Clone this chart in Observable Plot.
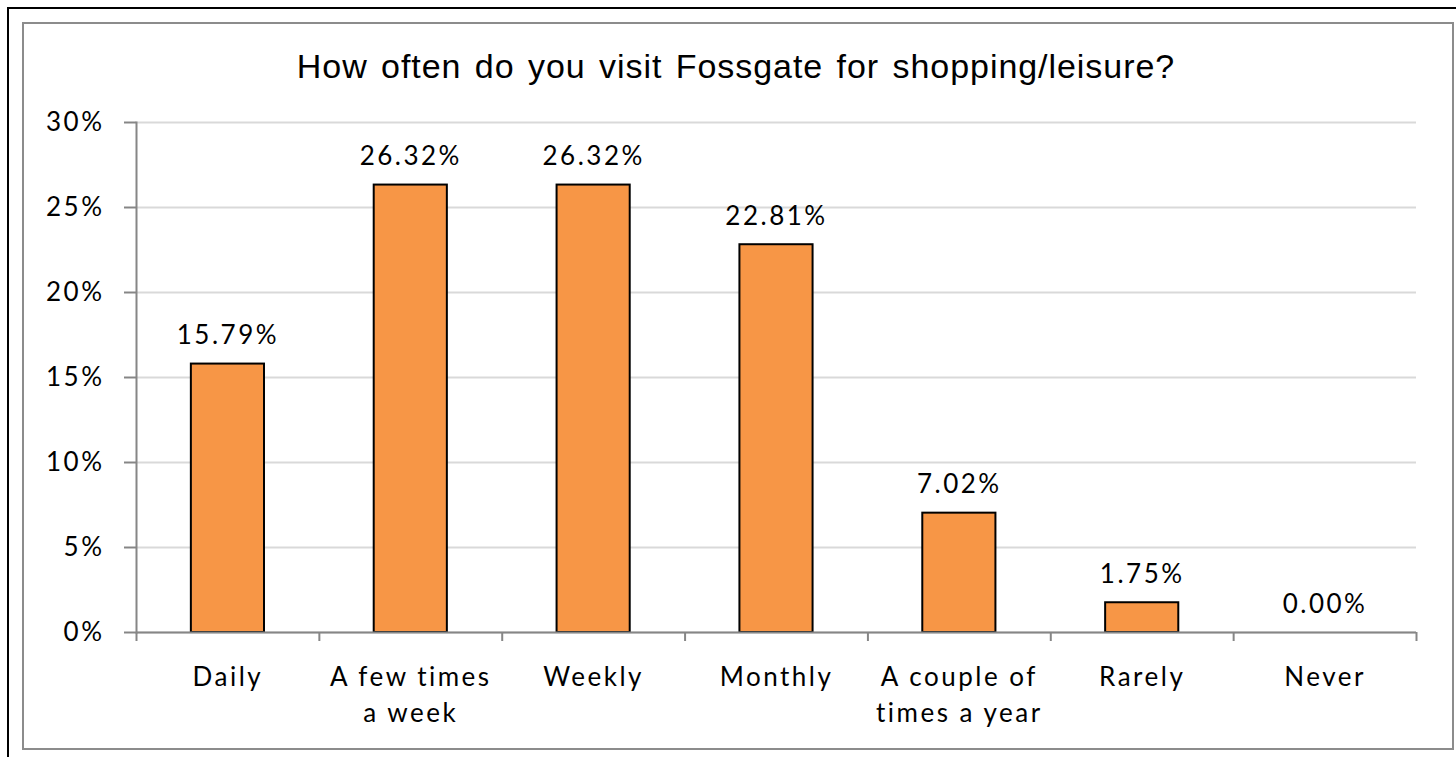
<!DOCTYPE html>
<html>
<head>
<meta charset="utf-8">
<script src="https://cdn.jsdelivr.net/npm/d3@7"></script>
<script src="https://cdn.jsdelivr.net/npm/@observablehq/plot@0.6"></script>
<style>
  html, body { margin: 0; padding: 0; background: #fff; width: 1456px; height: 757px; overflow: hidden; }
  #outer { position: absolute; left: 7px; top: 7px; width: 1500px; height: 800px; border-left: 2px solid #000; border-top: 2px solid #000; }
  #frame { position: absolute; left: 22px; top: 22px; width: 1428px; height: 724px; border: 2px solid #8c8c8c; }
  #title { position: absolute; left: 0; top: 47px; width: 1472px; text-align: center; font-family: "Liberation Sans", Arial, sans-serif; font-size: 34px; color: #000; letter-spacing: 0.95px; word-spacing: 3px; white-space: nowrap; }
  #chart { position: absolute; left: 0; top: 100px; }
</style>
</head>
<body>
<div id="outer"></div>
<div id="frame"></div>
<div id="title">How often do you visit Fossgate for shopping/leisure?</div>
<div id="chart"></div>
<script>
const categories = ["Daily", "A few times\na week", "Weekly", "Monthly", "A couple of\ntimes a year", "Rarely", "Never"];
const values = [15.79, 26.32, 26.32, 22.81, 7.02, 1.75, 0.00];
const yTicks = [0, 5, 10, 15, 20, 25, 30];

const data = categories.map((c, i) => ({category: c, value: values[i]}));

const W = 1456, H = 657, ML = 136, MR = 40, MT = 22, MB = 125;
const step = (W - ML - MR) / categories.length;
const font = "Lato, 'Open Sans', sans-serif";

const chart = Plot.plot({
  width: W, height: H,
  marginLeft: ML, marginRight: MR, marginTop: MT, marginBottom: MB,
  style: {fontFamily: font, color: "#000", background: "transparent", overflow: "visible", letterSpacing: "2.5px"},
  x: {domain: categories, paddingInner: 0.6, paddingOuter: 0.3, round: false, label: null},
  y: {domain: [0, 30], label: null},
  marks: [
    Plot.gridY(yTicks, {stroke: "#d9d9d9", strokeOpacity: 1, strokeWidth: 2}),
    Plot.barY(data.filter(d => d.value > 0), {x: "category", y: "value", fill: "#F79646", stroke: "#000", strokeWidth: 2}),
    Plot.frame({anchor: "left", stroke: "#868686", strokeWidth: 2}),
    Plot.ruleY([0], {stroke: "#868686", strokeWidth: 2}),
    Plot.axisY({ticks: yTicks, tickFormat: d => d + "%", tickSize: 12, tickPadding: 20, fontSize: 26, stroke: "#868686", strokeWidth: 2, fill: "#000", label: null}),
    Plot.axisX({ticks: categories, tickSize: 9, tickFormat: () => "", dx: -step / 2, stroke: "#868686", strokeWidth: 2, label: null}),
    Plot.axisX({ticks: [categories[categories.length - 1]], tickSize: 9, tickFormat: () => "", dx: step / 2, stroke: "#868686", strokeWidth: 2, label: null}),
    Plot.text(data, {x: "category", text: "category", frameAnchor: "bottom", dy: 28, lineAnchor: "top", lineHeight: 1.38, fontSize: 26, fill: "#000"}),
    Plot.text(data, {x: "category", y: "value", text: d => d.value.toFixed(2) + "%", dy: -28, fontSize: 26, fill: "#000"})
  ]
});
document.getElementById("chart").appendChild(chart);
</script>
</body>
</html>
